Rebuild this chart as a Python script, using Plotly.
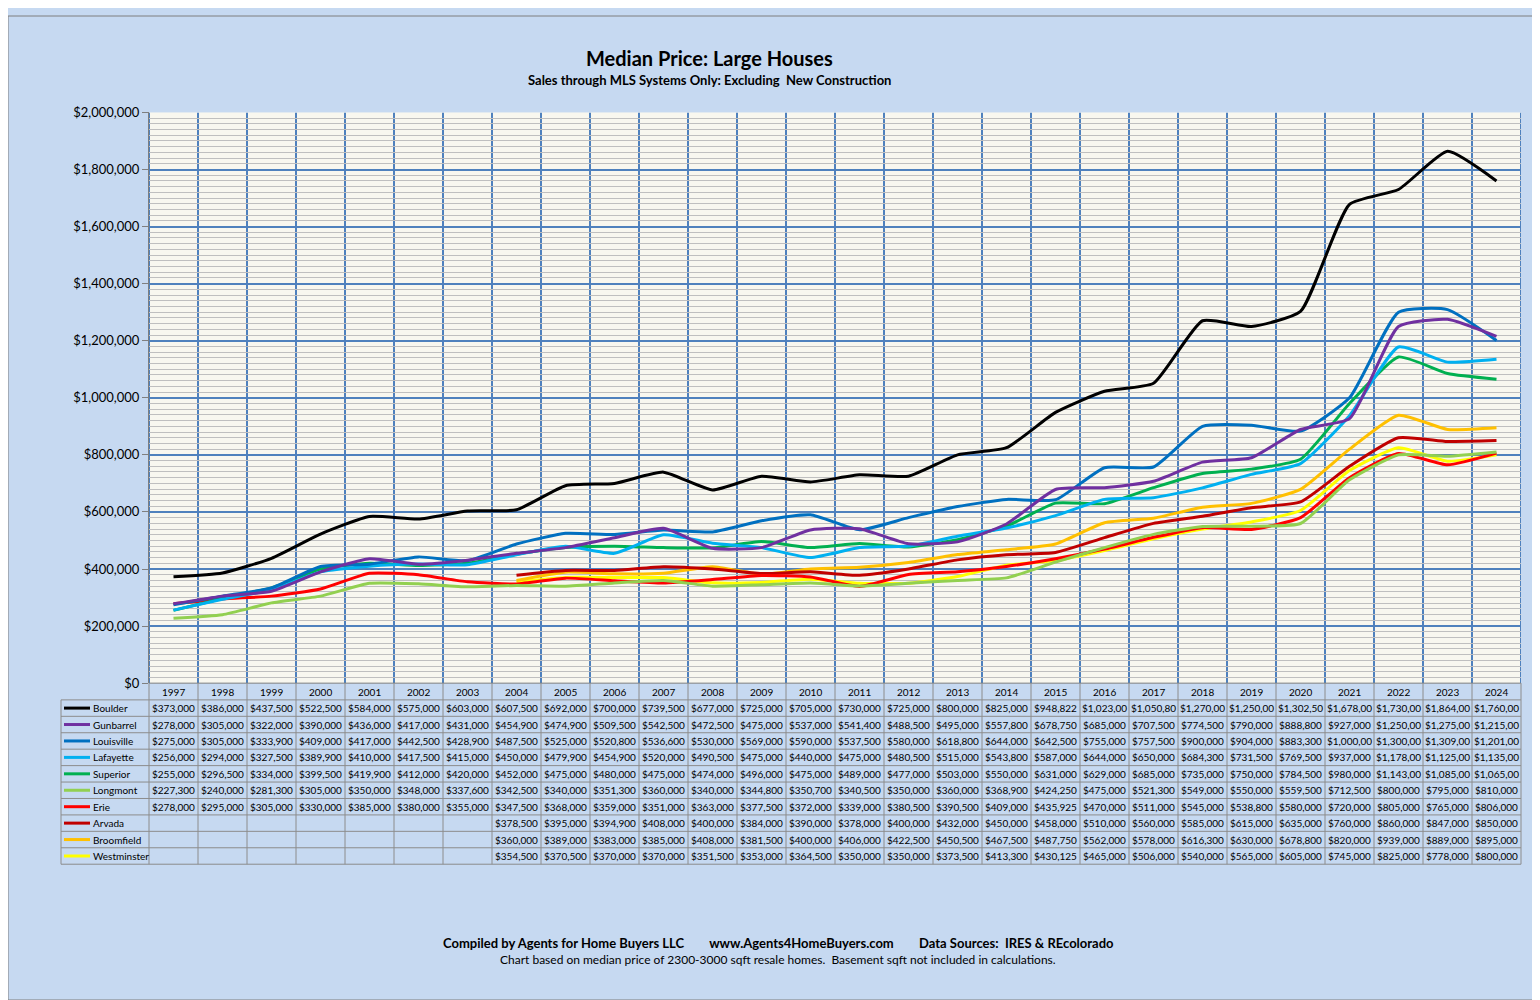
import plotly.graph_objects as go

years = list(range(1997, 2025))

cities = ['Boulder', 'Gunbarrel', 'Louisville', 'Lafayette', 'Superior',
          'Longmont', 'Erie', 'Arvada', 'Broomfield', 'Westminster']
colors = ['#000000', '#7030A0', '#0070C0', '#00B0F0', '#00B050',
          '#92D050', '#FF0000', '#C00000', '#FFC000', '#FFFF00']

boulder = [373000, 386000, 437500, 522500, 584000, 575000, 603000, 607500, 692000, 700000,
           739500, 677000, 725000, 705000, 730000, 725000, 800000, 825000, 948822, 1023000,
           1050800, 1270000, 1250000, 1302500, 1678000, 1730000, 1864000, 1760000]
gunbarrel = [278000, 305000, 322000, 390000, 436000, 417000, 431000, 454900, 474900, 509500,
             542500, 472500, 475000, 537000, 541400, 488500, 495000, 557800, 678750, 685000,
             707500, 774500, 790000, 888800, 927000, 1250000, 1275000, 1215000]
louisville = [275000, 305000, 333900, 409000, 417000, 442500, 428900, 487500, 525000, 520800,
              536600, 530000, 569000, 590000, 537500, 580000, 618800, 644000, 642500, 755000,
              757500, 900000, 904000, 883300, 1000000, 1300000, 1309000, 1201000]
lafayette = [256000, 294000, 327500, 389900, 410000, 417500, 415000, 450000, 479900, 454900,
             520000, 490500, 475000, 440000, 475000, 480500, 515000, 543800, 587000, 644000,
             650000, 684300, 731500, 769500, 937000, 1178000, 1125000, 1135000]
superior = [255000, 296500, 334000, 399500, 419900, 412000, 420000, 452000, 475000, 480000,
            475000, 474000, 496000, 475000, 489000, 477000, 503000, 550000, 631000, 629000,
            685000, 735000, 750000, 784500, 980000, 1143000, 1085000, 1065000]
longmont = [227300, 240000, 281300, 305000, 350000, 348000, 337600, 342500, 340000, 351300,
            360000, 340000, 344800, 350700, 340500, 350000, 360000, 368900, 424250, 475000,
            521300, 549000, 550000, 559500, 712500, 800000, 795000, 810000]
erie = [278000, 295000, 305000, 330000, 385000, 380000, 355000, 347500, 368000, 359000,
        351000, 363000, 377500, 372000, 339000, 380500, 390500, 409000, 435925, 470000,
        511000, 545000, 538800, 580000, 720000, 805000, 765000, 806000]
arvada = [None] * 7 + [378500, 395000, 394900, 408000, 400000, 384000, 390000, 378000, 400000,
                       432000, 450000, 458000, 510000, 560000, 585000, 615000, 635000, 760000,
                       860000, 847000, 850000]
broomfield = [None] * 7 + [360000, 389000, 383000, 385000, 408000, 381500, 400000, 406000, 422500,
                           450500, 467500, 487750, 562000, 578000, 616300, 630000, 678800, 820000,
                           939000, 889000, 895000]
westminster = [None] * 7 + [354500, 370500, 370000, 370000, 351500, 353000, 364500, 350000, 350000,
                            373500, 413300, 430125, 465000, 506000, 540000, 565000, 605000, 745000,
                            825000, 778000, 800000]

series = [boulder, gunbarrel, louisville, lafayette, superior,
          longmont, erie, arvada, broomfield, westminster]

W, H = 1540, 1000
X0, X1 = 141, 1513      # plot area pixels
Y0, Y1 = 98, 678
COLW = (X1 - X0) / len(years)
HDR_BOT = 695
ROWH = (862 - HDR_BOT) / len(cities)
FONT = 'Lato'


def px(x):
    return x / W


def py(y):
    return 1 - y / H


def fmt(v):
    if v is None:
        return ''
    s = '${:,.0f}'.format(v)
    return s[:9]  # cells in the original clip the last digit of millions


def label(x, y, text, size=10, anchor='center'):
    return dict(x=x, y=y, xref='paper', yref='paper', text=text, showarrow=False,
                xanchor=anchor, yanchor='middle', font=dict(size=size, color='#000'))


fig = go.Figure()
# later series first so Boulder ends up on top
for name, col, vals in reversed(list(zip(cities, colors, series))):
    fig.add_trace(go.Scatter(x=years, y=vals, name=name, mode='lines',
                             line=dict(color=col, width=3, shape='spline', smoothing=0.5),
                             connectgaps=False, showlegend=False))

shapes = []
# vertical grid lines at column boundaries
for i in range(len(years) + 1):
    xv = years[0] - 0.5 + i
    shapes.append(dict(type='line', xref='x', yref='y', x0=xv, x1=xv, y0=0, y1=2000000,
                       line=dict(color='#4F81BD', width=2), layer='below'))

tx = lambda i: px(X0 + COLW * i)
tbl_left = px(53)
shapes.append(dict(type='line', xref='paper', yref='paper', x0=px(X0), x1=px(X1),
                   y0=py(Y1), y1=py(Y1), line=dict(color='#7F7F7F', width=1)))
for r in range(len(cities) + 1):
    yy = py(HDR_BOT + ROWH * r)
    shapes.append(dict(type='line', xref='paper', yref='paper', x0=tbl_left, x1=px(X1),
                       y0=yy, y1=yy, line=dict(color='#8C8C8C', width=1)))
shapes.append(dict(type='line', xref='paper', yref='paper', x0=tbl_left, x1=tbl_left,
                   y0=py(HDR_BOT), y1=py(862), line=dict(color='#8C8C8C', width=1)))
for i in range(len(years) + 1):
    shapes.append(dict(type='line', xref='paper', yref='paper', x0=tx(i), x1=tx(i),
                       y0=py(Y1), y1=py(862), line=dict(color='#8C8C8C', width=1)))
# legend keys
for r, col in enumerate(colors):
    yy = py(HDR_BOT + ROWH * (r + 0.5))
    shapes.append(dict(type='line', xref='paper', yref='paper', x0=px(56), x1=px(82),
                       y0=yy, y1=yy, line=dict(color=col, width=3)))
shapes.append(dict(type='rect', xref='paper', yref='paper', x0=0, x1=1, y0=0, y1=1,
                   line=dict(color='#7F7F7F', width=1)))

ann = []
for i, yr in enumerate(years):
    ann.append(label(tx(i + 0.5), py((Y1 + HDR_BOT) / 2), str(yr)))
for r, (name, vals) in enumerate(zip(cities, series)):
    yy = py(HDR_BOT + ROWH * (r + 0.5))
    ann.append(label(px(83), yy, name, anchor='left'))
    for i, v in enumerate(vals):
        if v is not None:
            ann.append(label(tx(i + 0.5), yy, fmt(v)))

ann += [
    label(px(701), py(43), '<b>Median Price: Large Houses</b>', size=20),
    label(px(701), py(65), '<b>Sales through MLS Systems Only: Excluding  New Construction</b>',
          size=13),
    label(px(770), py(942), '<b>Compiled by Agents for Home Buyers LLC        '
          'www.Agents4HomeBuyers.com        Data Sources:  IRES &amp; REcolorado</b>', size=13),
    label(px(770), py(959), 'Chart based on median price of 2300-3000 sqft resale homes.  '
          'Basement sqft not included in calculations.', size=12),
]

fig.update_layout(
    width=W, height=H, margin=dict(l=0, r=0, t=0, b=0),
    paper_bgcolor='#C6D9F1', plot_bgcolor='#F8F7EF',
    font=dict(family=FONT, color='#000'),
    shapes=shapes, annotations=ann,
    xaxis=dict(domain=[px(X0), px(X1)], range=[years[0] - 0.5, years[-1] + 0.5],
               showgrid=False, showticklabels=False, zeroline=False, fixedrange=True),
    yaxis=dict(domain=[py(Y1), py(Y0)], range=[0, 2000000], dtick=200000,
               tickformat='$,.0f', tickfont=dict(size=13), ticks='outside', ticklen=6,
               tickcolor='#7F7F7F', gridcolor='#4F81BD', gridwidth=2, zeroline=False,
               minor=dict(dtick=20000, showgrid=True, gridcolor='#BFBFBF', gridwidth=1),
               showline=True, linecolor='#7F7F7F'),
)

fig.write_html("out.html")
